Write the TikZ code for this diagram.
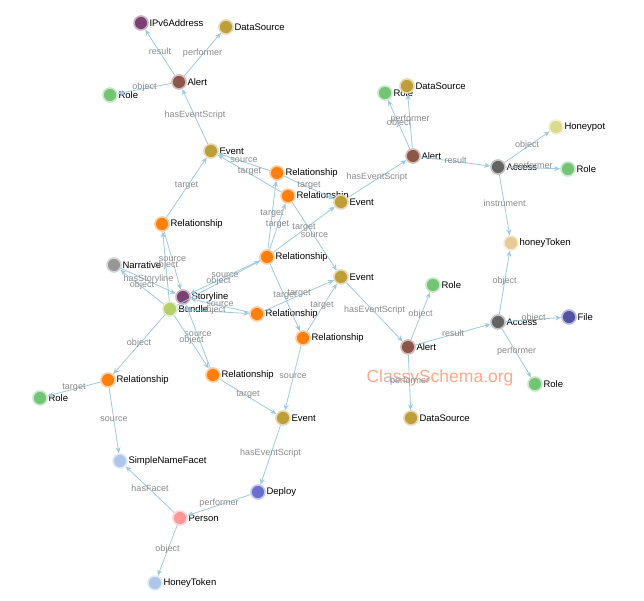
\documentclass[tikz,border=0pt]{standalone}
\usepackage{fontspec}
\setmainfont{Liberation Sans}
\usetikzlibrary{arrows.meta}
\definecolor{purp}{HTML}{7B4173}
\definecolor{gold}{HTML}{BD9E39}
\definecolor{alertc}{HTML}{8C564B}
\definecolor{rolec}{HTML}{74C476}
\definecolor{relc}{HTML}{FF7F0E}
\definecolor{narc}{HTML}{969696}
\definecolor{bundlec}{HTML}{B5CF6B}
\definecolor{lblue}{HTML}{AEC7E8}
\definecolor{personc}{HTML}{FF9896}
\definecolor{deployc}{HTML}{6B6ECF}
\definecolor{accessc}{HTML}{636363}
\definecolor{honeypotc}{HTML}{DBDB8D}
\definecolor{htokenc}{HTML}{E7CB94}
\definecolor{filec}{HTML}{5254A3}
\definecolor{edgec}{HTML}{9ECAE1}
\definecolor{labc}{HTML}{8A8A8A}
\definecolor{wmc}{HTML}{FFA88C}
\tikzset{
  ent/.style={circle, minimum size=14pt, inner sep=0pt, line width=1.6pt, fill=#1, draw=#1!40},
  nlab/.style={font=\fontsize{9.5}{11}\selectfont, text=black, inner sep=0.5pt},
  rel/.style={draw=edgec, line width=0.8pt, -{Stealth[length=6pt,width=5pt]}},
  elab/.style={font=\fontsize{9}{10}\selectfont, text=labc, inner sep=0pt, midway, yshift=1.5pt}
}
\begin{document}
\begin{tikzpicture}[x=1pt,y=-1pt]
\useasboundingbox (0,0) rectangle (644,600);
\node[font=\fontsize{17.5}{20}\selectfont, text=wmc] (wm) at (440,378) {ClassySchema.org};
% nodes
\node[ent=purp, label={[nlab,label distance=0pt]right:IPv6Address}] (ipv6) at (141,23) {};
\node[ent=gold, label={[nlab,label distance=0pt]right:DataSource}] (ds1) at (226,27) {};
\node[ent=alertc, label={[nlab,label distance=0pt]right:Alert}] (al1) at (179,82) {};
\node[ent=rolec, label={[nlab,label distance=0pt]right:Role}] (ro1) at (110,95) {};
\node[ent=gold, label={[nlab,label distance=0pt]right:Event}] (ev1) at (211,151) {};
\node[ent=relc, label={[nlab,label distance=0pt]right:Relationship}] (ra) at (277,173) {};
\node[ent=relc, label={[nlab,label distance=0pt]right:Relationship}] (rb) at (288,196) {};
\node[ent=gold, label={[nlab,label distance=0pt]right:Event}] (ev2) at (341,202) {};
\node[ent=relc, label={[nlab,label distance=0pt]right:Relationship}] (rl) at (162,224) {};
\node[ent=relc, label={[nlab,label distance=0pt]right:Relationship}] (rc) at (267,257) {};
\node[ent=narc, label={[nlab,label distance=0pt]right:Narrative}] (nar) at (114,265) {};
\node[ent=gold, label={[nlab,label distance=0pt]right:Event}] (ev3) at (341,277) {};
\node[ent=purp, label={[nlab,label distance=0pt]right:Storyline}] (sto) at (183,297) {};
\node[ent=bundlec, label={[nlab,label distance=0pt]right:Bundle}] (bun) at (170,309) {};
\node[ent=relc, label={[nlab,label distance=0pt]right:Relationship}] (rd) at (257,314) {};
\node[ent=relc, label={[nlab,label distance=0pt]right:Relationship}] (re) at (303,338) {};
\node[ent=relc, label={[nlab,label distance=0pt]right:Relationship}] (rf) at (108,380) {};
\node[ent=relc, label={[nlab,label distance=0pt]right:Relationship}] (rg) at (213,375) {};
\node[ent=rolec, label={[nlab,label distance=0pt]right:Role}] (ro2) at (40,398) {};
\node[ent=gold, label={[nlab,label distance=0pt]right:Event}] (ev4) at (283,418) {};
\node[ent=lblue, label={[nlab,label distance=0pt]right:SimpleNameFacet}] (snf) at (120,461) {};
\node[ent=deployc, label={[nlab,label distance=0pt]right:Deploy}] (dep) at (258,492) {};
\node[ent=personc, label={[nlab,label distance=0pt]right:Person}] (per) at (180,518) {};
\node[ent=lblue, label={[nlab,label distance=0pt]right:HoneyToken}] (ht) at (155,583) {};
\node[ent=rolec, label={[nlab,label distance=0pt]right:Role}] (ro3) at (385,93) {};
\node[ent=gold, label={[nlab,label distance=0pt]right:DataSource}] (ds2) at (407,86) {};
\node[ent=alertc, label={[nlab,label distance=0pt]right:Alert}] (al2) at (413,156) {};
\node[ent=accessc, label={[nlab,label distance=0pt]right:Access}] (ac1) at (498,167) {};
\node[ent=honeypotc, label={[nlab,label distance=0pt]right:Honeypot}] (hp) at (556,127) {};
\node[ent=rolec, label={[nlab,label distance=0pt]right:Role}] (ro4) at (568,169) {};
\node[ent=htokenc, label={[nlab,label distance=0pt]right:honeyToken}] (hto) at (511,243) {};
\node[ent=rolec, label={[nlab,label distance=0pt]right:Role}] (ro5) at (433,285) {};
\node[ent=accessc, label={[nlab,label distance=0pt]right:Access}] (ac2) at (498,322) {};
\node[ent=filec, label={[nlab,label distance=0pt]right:File}] (fil) at (569,317) {};
\node[ent=alertc, label={[nlab,label distance=0pt]right:Alert}] (al3) at (408,347) {};
\node[ent=rolec, label={[nlab,label distance=0pt]right:Role}] (ro6) at (535,384) {};
\node[ent=gold, label={[nlab,label distance=0pt]right:DataSource}] (ds3) at (411,418) {};
% edges
\draw[rel] (al1) -- node[elab]{result} (ipv6);
\draw[rel] (al1) -- node[elab]{performer} (ds1);
\draw[rel] (al1) -- node[elab]{object} (ro1);
\draw[rel] (ev1) -- node[elab]{hasEventScript} (al1);
\draw[rel] (ra) -- node[elab]{source} (ev1);
\draw[rel] (rb) -- node[elab]{target} (ev1);
\draw[rel] (ra) -- node[elab]{target} (ev2);
\draw[rel] (rb) -- node[elab]{source} (ev3);
\draw[rel] (rc) -- node[elab]{target} (ra);
\draw[rel] (rc) -- node[elab]{target} (rb);
\draw[rel] (rc) -- node[elab]{target} (ev2);
\draw[rel] (rc) -- node[elab]{target} (re);
\draw[rel] (rc) -- node[elab]{source} (sto);
\draw[rel] (bun) -- node[elab]{object} (rc);
\draw[rel] (rl) -- node[elab]{target} (ev1);
\draw[rel] (rl) -- node[elab]{source} (sto);
\draw[rel] (bun) -- node[elab]{object} (rl);
\draw[rel] (nar) -- node[elab]{hasStoryline} (sto);
\draw[rel] (bun) -- node[elab]{object} (nar);
\draw[rel] (rd) -- node[elab]{source} (sto);
\draw[rel] (bun) -- node[elab]{object} (rd);
\draw[rel] (rd) -- node[elab]{target} (ev3);
\draw[rel] (re) -- node[elab]{target} (ev3);
\draw[rel] (re) -- node[elab]{source} (ev4);
\draw[rel] (rg) -- node[elab]{source} (sto);
\draw[rel] (bun) -- node[elab]{object} (rg);
\draw[rel] (rg) -- node[elab]{target} (ev4);
\draw[rel] (bun) -- node[elab]{object} (rf);
\draw[rel] (rf) -- node[elab]{target} (ro2);
\draw[rel] (rf) -- node[elab]{source} (snf);
\draw[rel] (ev4) -- node[elab]{hasEventScript} (dep);
\draw[rel] (dep) -- node[elab]{performer} (per);
\draw[rel] (per) -- node[elab]{hasFacet} (snf);
\draw[rel] (per) -- node[elab]{object} (ht);
\draw[rel] (ev2) -- node[elab]{hasEventScript} (al2);
\draw[rel] (al2) -- node[elab]{object} (ro3);
\draw[rel] (al2) -- node[elab]{performer} (ds2);
\draw[rel] (al2) -- node[elab]{result} (ac1);
\draw[rel] (ac1) -- node[elab]{object} (hp);
\draw[rel] (ac1) -- node[elab]{performer} (ro4);
\draw[rel] (ac1) -- node[elab]{instrument} (hto);
\draw[rel] (ev3) -- node[elab]{hasEventScript} (al3);
\draw[rel] (al3) -- node[elab]{object} (ro5);
\draw[rel] (al3) -- node[elab]{result} (ac2);
\draw[rel] (al3) -- node[elab]{performer} (ds3);
\draw[rel] (ac2) -- node[elab]{object} (hto);
\draw[rel] (ac2) -- node[elab]{object} (fil);
\draw[rel] (ac2) -- node[elab]{performer} (ro6);
\end{tikzpicture}
\end{document}
